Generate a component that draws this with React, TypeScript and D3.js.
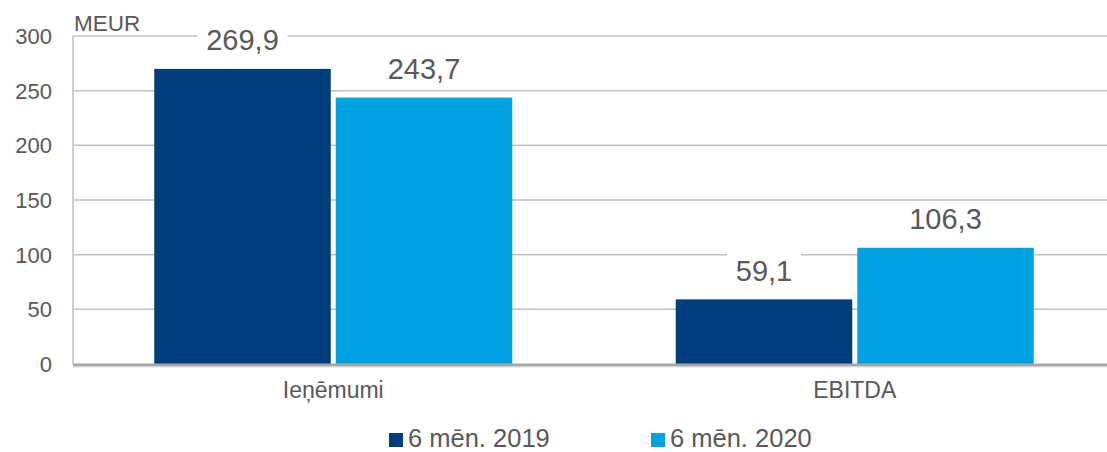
import React from "react";
import * as d3 from "d3";

const width = 1107;
const height = 452;
const margin = { top: 36, right: 0, bottom: 88, left: 73 };

const categories = ["Ieņēmumi", "EBITDA"];
const seriesNames = ["6 mēn. 2019", "6 mēn. 2020"];
const values2019 = [269.9, 59.1];
const values2020 = [243.7, 106.3];
const yTicks = [0, 50, 100, 150, 200, 250, 300];
const colors = ["#003d7c", "#00a3e2"];

const font = "'Liberation Sans', Arial, sans-serif";
const textColor = "#595959";

const App = () => {
  const yScale = d3.scaleLinear().domain([0, 300]).range([364, margin.top]);
  const xScale = d3
    .scaleBand()
    .domain(categories)
    .range([72.5, 1115.5])
    .paddingInner(0.3135)
    .paddingOuter(0.15675);
  const inner = d3
    .scaleBand()
    .domain(seriesNames)
    .range([0, xScale.bandwidth()])
    .paddingInner(0.0275);

  const series = [values2019, values2020];
  const fmt = (v: number) => v.toFixed(1).replace(".", ",");

  const bars = categories.flatMap((c, i) =>
    series.map((vals, s) => {
      const x = (xScale(c) ?? 0) + (inner(seriesNames[s]) ?? 0);
      const y = yScale(vals[i]);
      return {
        key: c + s,
        x,
        y,
        w: inner.bandwidth(),
        h: yScale(0) - y,
        fill: colors[s],
        label: fmt(vals[i])
      };
    })
  );

  const labelSize = 29;

  return (
    <svg
      width={width}
      height={height}
      style={{ position: "absolute", left: 0, top: 0 }}
      fontFamily={font}
    >
      <rect width={width} height={height} fill="#fff" />
      {/* gridlines */}
      {yTicks.slice(1).map((t) => (
        <line
          key={t}
          x1={margin.left}
          x2={width}
          y1={yScale(t)}
          y2={yScale(t)}
          stroke="#bfbfbf"
          strokeWidth={1.5}
        />
      ))}
      <line
        x1={margin.left}
        x2={margin.left}
        y1={yScale(300)}
        y2={yScale(0)}
        stroke="#bfbfbf"
        strokeWidth={1.5}
      />
      {/* tick labels */}
      {yTicks.map((t) => (
        <text
          key={t}
          x={52}
          y={yScale(t)}
          dy="0.36em"
          textAnchor="end"
          fontSize={22}
          fill={textColor}
        >
          {t}
        </text>
      ))}
      <text x={74} y={31} fontSize={22.5} fill={textColor}>
        MEUR
      </text>
      {/* bars */}
      {bars.map((d) => (
        <rect key={d.key} x={d.x} y={d.y} width={d.w} height={d.h} fill={d.fill} />
      ))}
      {/* value labels with white boxes */}
      {bars.map((d) => {
        const tw = d.label.length === 5 ? 72 : 56;
        const cx = d.x + d.w / 2;
        const cy = d.y - 29;
        return (
          <g key={"l" + d.key}>
            <rect x={cx - tw / 2 - 9} y={cy - 17} width={tw + 18} height={34} fill="#fff" />
            <text
              x={cx}
              y={cy}
              dy="0.36em"
              textAnchor="middle"
              fontSize={labelSize}
              fill={textColor}
            >
              {d.label}
            </text>
          </g>
        );
      })}
      {/* baseline axis */}
      <line x1={margin.left} x2={width} y1={365} y2={365} stroke="#a6a6a6" strokeWidth={3} />
      <line x1={margin.left} x2={width} y1={367} y2={367} stroke="#d9d9d9" strokeWidth={1} />
      {/* category labels */}
      {categories.map((c) => (
        <text
          key={c}
          x={(xScale(c) ?? 0) + xScale.bandwidth() / 2}
          y={398}
          textAnchor="middle"
          fontSize={23}
          fill={textColor}
        >
          {c}
        </text>
      ))}
      {/* legend */}
      {seriesNames.map((s, i) => {
        const lx = [389, 651][i];
        return (
          <g key={s}>
            <rect x={lx} y={433} width={14} height={14} fill={colors[i]} />
            <text x={lx + 19} y={447} fontSize={25.5} fill={textColor}>
              {s}
            </text>
          </g>
        );
      })}
    </svg>
  );
};

export default App;
